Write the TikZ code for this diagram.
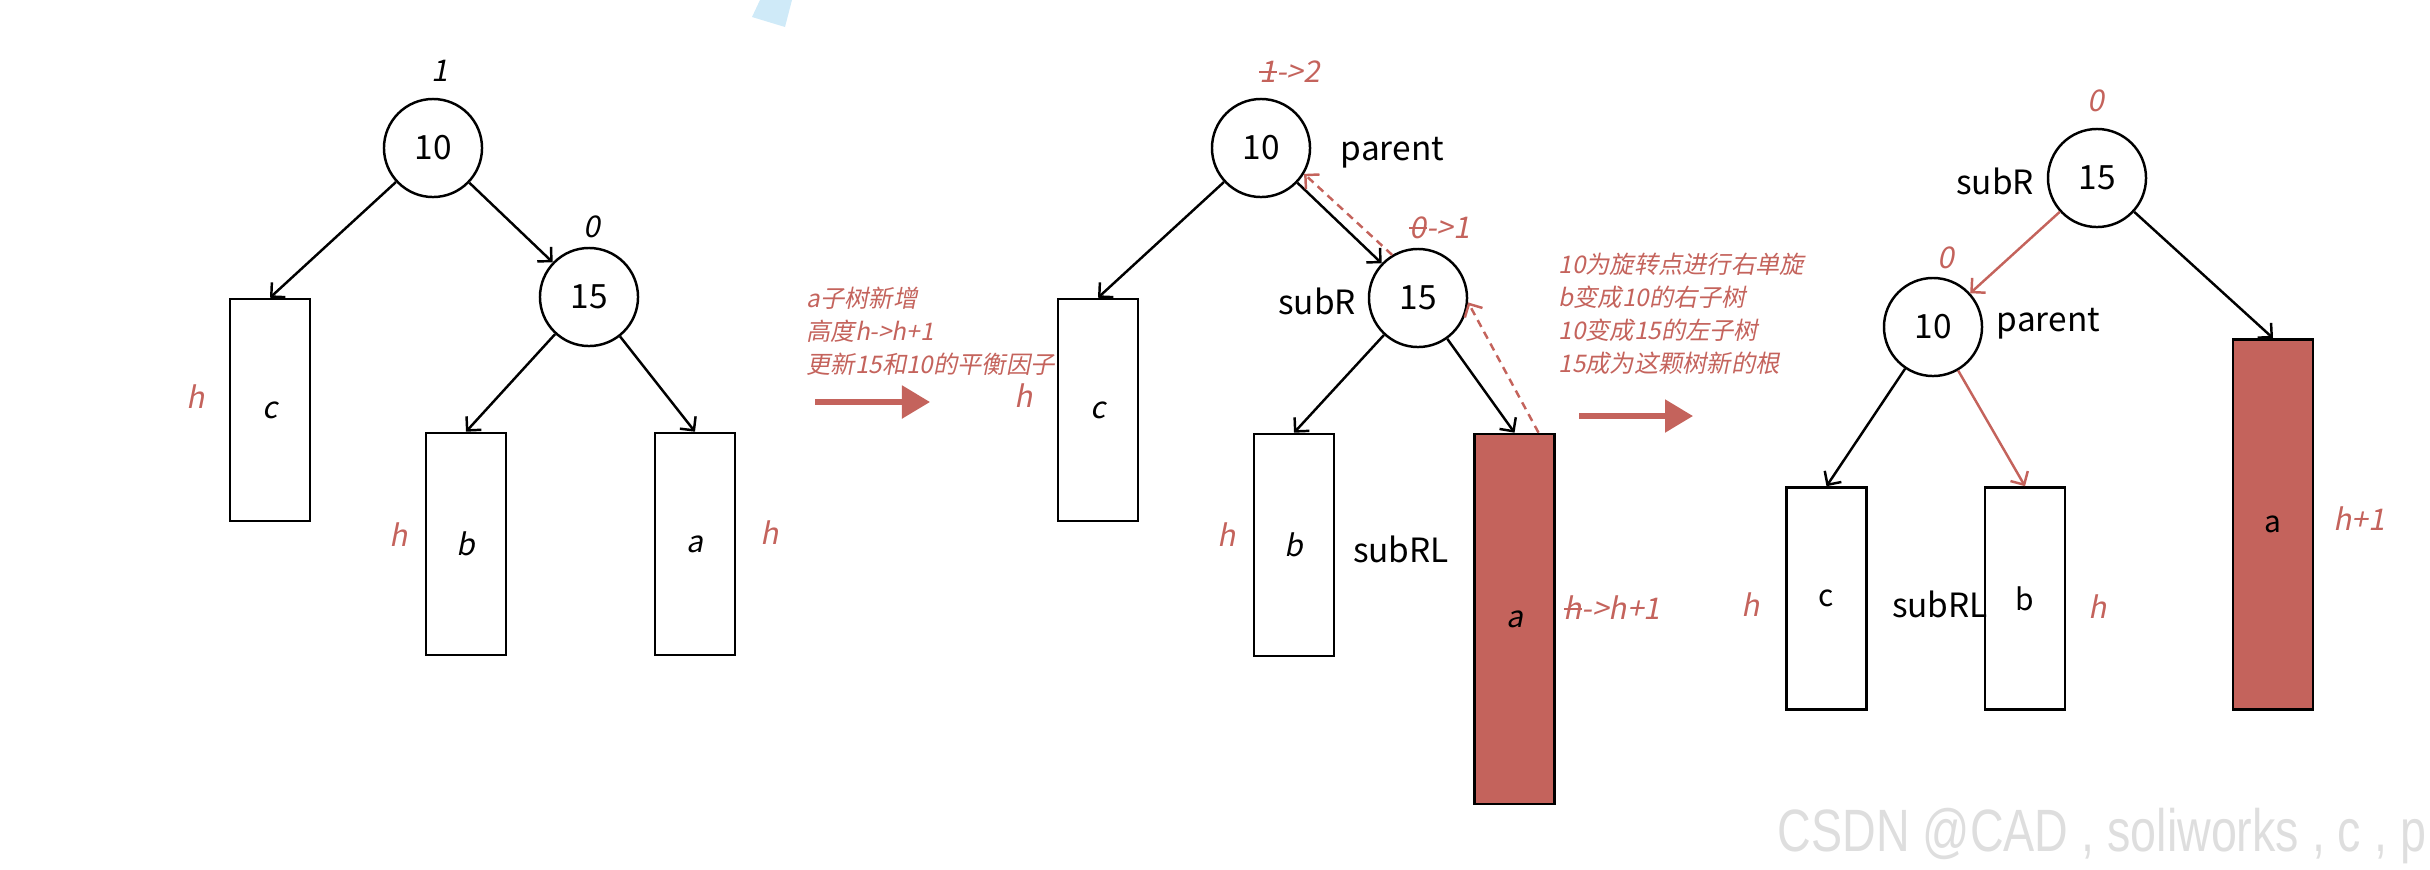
\documentclass[tikz,border=0pt]{standalone}
\usepackage{fontspec}
\setmainfont{Noto Sans CJK SC}
\newfontfamily\slfont[FakeSlant=0.2]{Noto Sans CJK SC}
\newfontfamily\wmfont[FakeStretch=0.78]{Liberation Sans}
\usepackage{tikz}
\usetikzlibrary{arrows.meta, positioning, calc}
\definecolor{corRed}{RGB}{196, 99, 92}
\definecolor{corBlue}{RGB}{207, 234, 248}
\newcommand{\struck}[1]{\ooalign{\hidewidth\rule[0.33em]{0.6em}{0.07em}\hidewidth\cr#1\cr}}

\begin{document}
\begin{tikzpicture}[
    x=0.01cm, y=-0.01cm,
    knode/.style={circle, draw, line width=0.7pt, minimum size=0.98cm, inner sep=0pt,
                  font=\fontsize{9.5}{11}\selectfont},
    sub/.style={draw, line width=0.7pt, minimum width=0.8cm, minimum height=2.22cm,
                inner sep=0pt, font=\slfont\fontsize{8.5}{10}\selectfont},
    hot/.style={sub, fill=corRed, minimum height=3.7cm},
    tag/.style={inner sep=0pt, font=\fontsize{9.5}{11}\selectfont},
    bf/.style={inner sep=0pt, font=\slfont\fontsize{8.5}{10}\selectfont},
    hgt/.style={bf, text=corRed},
    note/.style={inner sep=0pt, align=left, text=corRed,
                 font=\slfont\fontsize{6.9}{9.4}\selectfont},
    link/.style={-{Straight Barb[length=1mm,width=2mm]}, line width=0.7pt},
    back/.style={link, draw=corRed, dash pattern=on 2.2pt off 1.6pt},
    go/.style={-{Triangle[length=2.8mm,width=3.2mm]}, line width=1.5pt, draw=corRed}
]
\useasboundingbox (0,0) rectangle (2430,869);
\fill[corBlue] (760,0) -- (752,17) -- (785,27) -- (792,0) -- cycle;

% before insertion
\node[knode] (a10) at (433,148) {10};
\node[knode] (a15) at (589,297) {15};
\node[sub] (ac) at (270,410) {c};
\node[sub] (ab) at (466,544) {b};
\node[sub] (aa) at (695,544) {a};
\node[bf] (af10) at (440,71) {1};
\node[bf] (af15) at (592,227) {0};
\node[hgt] (ahc) at (196,397) {h};
\node[hgt] (ahb) at (399,535) {h};
\node[hgt] (aha) at (770,533) {h};
\draw[link] (a10) -- (ac.north);
\draw[link] (a10) -- (a15);
\draw[link] (a15) -- (ab.north);
\draw[link] (a15) -- (aa.north);

\node[note, anchor=west] (txt1) at (806,331) {a子树新增\\高度h->h+1\\更新15和10的平衡因子};
\coordinate (g1s) at (815,402);
\coordinate (g1e) at (930,402);
\draw[go] (g1s) -- (g1e);

% after insertion
\node[knode] (b10) at (1261,148) {10};
\node[knode] (b15) at (1418,298) {15};
\node[sub] (bc) at (1098,410) {c};
\node[sub] (bb) at (1294,545) {b};
\node[hot] (ba) at (1514.5,619) {a};
\node[tag, right=0.29cm of b10, yshift=-0.05cm] (bpar) {parent};
\node[tag, left=0.11cm of b15, yshift=-0.03cm] (bsubr) {subR};
\node[tag] (bsubrl) at (1401,549) {subRL};
\node[hgt] (bf10) at (1290,72) {\struck{1}->2};
\node[hgt] (bf15) at (1440,228) {\struck{0}->1};
\node[hgt] (bhc) at (1024,396) {h};
\node[hgt] (bhb) at (1227,535) {h};
\node[hgt] (bha) at (1612,608) {\struck{h}->h+1};
\draw[link] (b10) -- (bc.north);
\draw[link] (b10) -- (b15);
\draw[link] (b15) -- (bb.north);
\draw[link] (b15) -- (ba.north);
\draw[back] (b15.121) -- (b10.-31);
\draw[back] ([xshift=0.24cm]ba.north) -- (b15.-5);

\node[note, anchor=west] (txt2) at (1558,314) {10为旋转点进行右单旋\\b变成10的右子树\\10变成15的左子树\\15成为这颗树新的根};
\coordinate (g2s) at (1579,416);
\coordinate (g2e) at (1693,416);
\draw[go] (g2s) -- (g2e);

% after rotation
\node[knode] (c15) at (2097,178) {15};
\node[knode] (c10) at (1933,327) {10};
\node[sub, font=\fontsize{8.5}{10}\selectfont] (cc) at (1826.5,598.5) {c};
\node[sub, font=\fontsize{8.5}{10}\selectfont] (cb) at (2025,598.5) {b};
\node[hot, font=\fontsize{8.5}{10}\selectfont] (ca) at (2273,524.5) {a};
\node[tag, left=0.12cm of c15, yshift=-0.03cm] (csubr) {subR};
\node[tag, right=0.13cm of c10, yshift=0.03cm] (cpar) {parent};
\node[tag] (csubrl) at (1940,604) {subRL};
\node[hgt] (cf15) at (2096,101) {0};
\node[hgt] (cf10) at (1946,258) {0};
\node[hgt] (chc) at (1751,605) {h};
\node[hgt] (chb) at (2098,607) {h};
\node[hgt] (cha) at (2359,519) {h+1};
\draw[link, draw=corRed] (c15) -- (c10);
\draw[link] (c15) -- (ca.north);
\draw[link] (c10) -- (cc.north);
\draw[link, draw=corRed] (c10) -- (cb.north);

\node[anchor=base west, inner sep=0pt, text=black!13, font=\wmfont\fontsize{17}{19}\selectfont] (wm) at (1777,851) {CSDN @CAD , soliworks , c , p};
\end{tikzpicture}
\end{document}
